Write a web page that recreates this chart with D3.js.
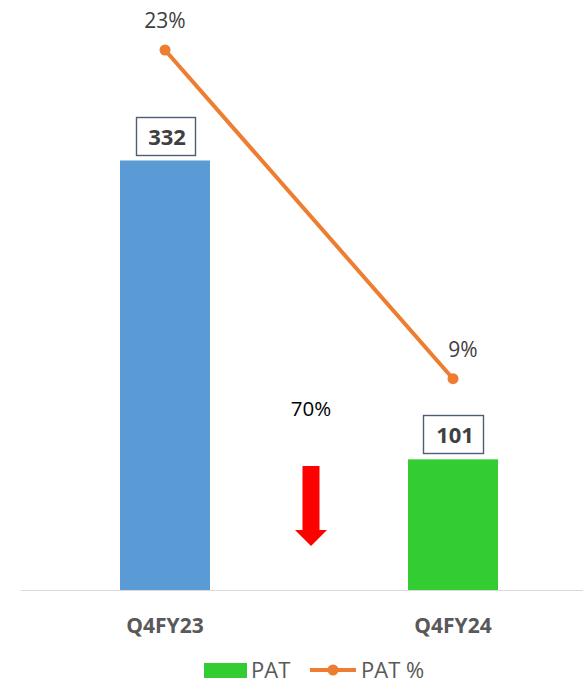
<!DOCTYPE html>
<html><head><meta charset="utf-8">
<script src="https://cdn.jsdelivr.net/npm/d3@7"></script>
<style>body{margin:0;background:#fff}svg{display:block}text{font-family:"Open Sans",sans-serif}</style>
</head><body>
<svg id="c" width="583" height="683"></svg>
<script>
const categories = ["Q4FY23", "Q4FY24"];
const patValues = [332, 101];
const patPct = [23, 9];
const pctLabels = ["23%", "9%"];
const barColors = ["#5b9bd5", "#33cc33"];
const changeLabel = "70%";
const legendLabels = ["PAT", "PAT %"];

const svg = d3.select("#c");
const baseY = 590;
const x = d3.scaleBand().domain(categories).range([21, 597]).paddingInner(0.6875).paddingOuter(0.34375);
const y = d3.scaleLinear().domain([0, 332]).range([baseY, 160.5]);
const yp = d3.scaleLinear().domain([0, 23]).range([baseY, 50]);

// axis line
svg.append("line").attr("x1", 21).attr("x2", 583).attr("y1", baseY + 0.5).attr("y2", baseY + 0.5)
  .attr("stroke", "#d9d9d9").attr("stroke-width", 1);

// bars
svg.selectAll("rect.bar").data(patValues).join("rect").attr("class", "bar")
  .attr("x", (d, i) => x(categories[i])).attr("width", x.bandwidth())
  .attr("y", d => y(d)).attr("height", d => baseY - y(d))
  .attr("fill", (d, i) => barColors[i]);

// bar value labels in boxes
const bw = [59, 60];
patValues.forEach((v, i) => {
  const cx = x(categories[i]) + x.bandwidth() / 2;
  const top = Math.round(y(v) - 44);
  svg.append("rect").attr("x", Math.round(cx - bw[i] / 2) + 0.5).attr("y", top + 0.5).attr("width", bw[i]).attr("height", 38)
    .attr("fill", "#fff").attr("stroke", "#4e5d73").attr("stroke-width", 1.4);
  svg.append("text").attr("x", cx + 2).attr("y", top + 28).attr("text-anchor", "middle")
    .attr("font-size", 22).attr("font-weight", "bold").attr("fill", "#404040").text(v);
});

// x labels
categories.forEach(c => {
  svg.append("text").attr("x", x(c) + x.bandwidth() / 2).attr("y", 633).attr("text-anchor", "middle")
    .attr("font-size", 21).attr("font-weight", "bold").attr("fill", "#595959").text(c);
});

// line
const pts = patPct.map((p, i) => [x(categories[i]) + x.bandwidth() / 2, yp(p)]);
svg.append("path").attr("d", d3.line()(pts)).attr("fill", "none").attr("stroke", "#ed7d31").attr("stroke-width", 4);
svg.selectAll("circle.pt").data(pts).join("circle").attr("class", "pt")
  .attr("cx", d => d[0]).attr("cy", d => d[1]).attr("r", 5.5).attr("fill", "#ed7d31");
const lblDx = [0, 10];
pts.forEach((p, i) => {
  svg.append("text").attr("x", p[0] + lblDx[i]).attr("y", p[1] - 22).attr("text-anchor", "middle")
    .attr("font-size", 21).attr("fill", "#404040").text(pctLabels[i]);
});

// change label + arrow
const mid = (pts[0][0] + pts[1][0]) / 2 + 2;
svg.append("text").attr("x", mid).attr("y", 416).attr("text-anchor", "middle")
  .attr("font-size", 20.5).attr("fill", "#000").text(changeLabel);
svg.append("path").attr("d", `M${mid-8.5},466 L${mid+8.5},466 L${mid+8.5},530 L${mid+16},530 L${mid},546 L${mid-16},530 L${mid-8.5},530 Z`)
  .attr("fill", "#ff0000");

// legend
svg.append("rect").attr("x", 204).attr("y", 663).attr("width", 43).attr("height", 15).attr("fill", barColors[1]);
svg.append("text").attr("x", 251).attr("y", 678).attr("font-size", 22).attr("fill", "#595959").text(legendLabels[0]);
svg.append("line").attr("x1", 310).attr("x2", 356).attr("y1", 670).attr("y2", 670).attr("stroke", "#ed7d31").attr("stroke-width", 4);
svg.append("circle").attr("cx", 333).attr("cy", 670).attr("r", 5.5).attr("fill", "#ed7d31");
svg.append("text").attr("x", 361).attr("y", 678).attr("font-size", 22).attr("fill", "#595959").text(legendLabels[1]);
</script>
</body></html>
